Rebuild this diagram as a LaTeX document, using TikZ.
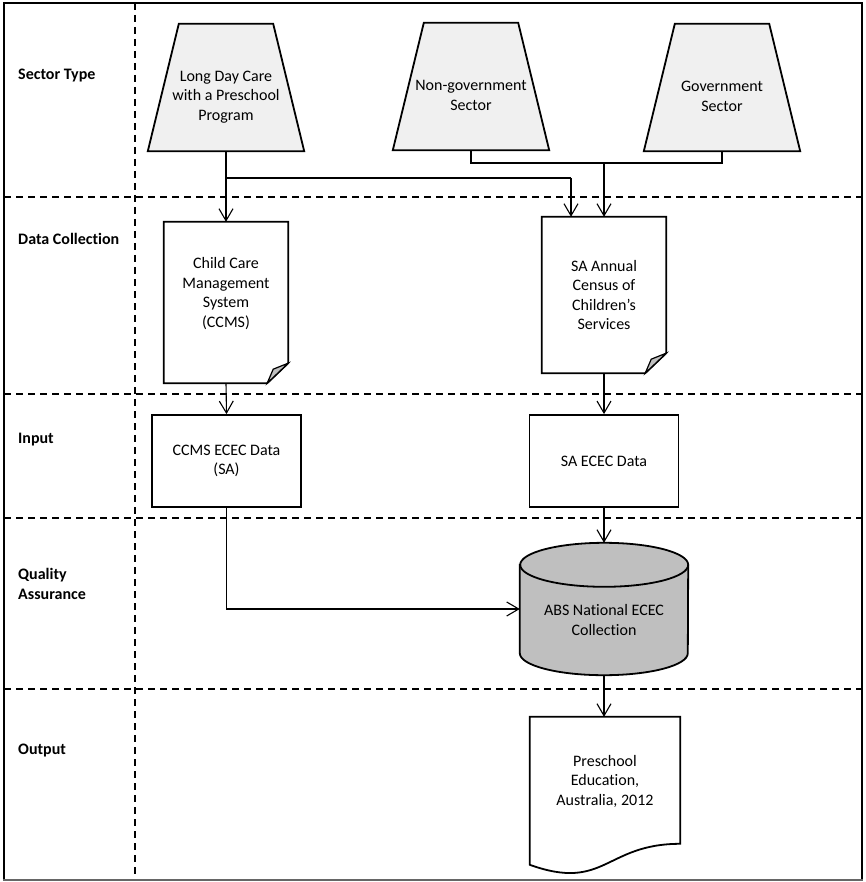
\documentclass[tikz,border=0pt]{standalone}
\usepackage{fontspec}
\setmainfont{Carlito}[Ligatures=NoCommon]
\usetikzlibrary{arrows.meta,calc}
\begin{document}
\begin{tikzpicture}[x=1pt,y=-1pt,
  txt/.style={font=\fontsize{16}{19.5}\selectfont, align=center, inner sep=0pt},
  lbl/.style={font=\fontsize{16}{19.5}\selectfont\bfseries, align=left, anchor=west, inner sep=0pt},
  frame/.style={draw=none, inner sep=0pt, rectangle},
  shp/.style={draw=black, line width=1.8pt, line join=miter},
  trap/.style={shp, fill=black!6},
  docfill/.style={shp, fill=white},
  fold/.style={draw=black, line width=1.2pt, fill=black!25, line join=miter},
  cylfill/.style={shp, fill=black!25},
  conn/.style={draw=black, line width=1.1pt},
  arr/.style={conn, -{Straight Barb[length=12pt,width=14pt]}},
  dsh/.style={draw=black, line width=1.3pt, dash pattern=on 7pt off 5pt},
]
\useasboundingbox (0,0) rectangle (865,882);
\fill[white] (0,0) rectangle (865,882);

% frame and lanes
\draw[dsh] (135,3) -- (135,880);
\foreach \yy in {197,394,518,689} \draw[dsh] (4,\yy) -- (862,\yy);
\draw[line width=1.2pt] (4,880) -- (4,3) -- (862,3) -- (862,880);
\draw[black!60, line width=2pt] (3,880) -- (863,880);

% row labels
\node[lbl] (l1) at (18,76) {Sector Type};
\node[lbl] (l2) at (18,239) {Data Collection};
\node[lbl] (l3) at (18,440) {Input};
\node[lbl] (l4) at (18,584) {Quality\\Assurance};
\node[lbl] (l5) at (18,751) {Output};

% trapezoids
\node[frame, minimum width=156pt, minimum height=127pt] (ldc) at (226,87.5) {};
\node[frame, minimum width=156pt, minimum height=127pt] (ngs) at (471,86.5) {};
\node[frame, minimum width=156pt, minimum height=127pt] (gs) at (722,87.5) {};
\foreach \n in {ldc,ngs,gs}
  \draw[trap] (\n.south west) -- ($(\n.north west)+(31,0)$) -- ($(\n.north east)+(-31,0)$) -- (\n.south east) -- cycle;
\node[txt] (ldct) at ($(ldc.center)+(0,9.5)$) {Long Day Care\\with a Preschool\\Program};
\node[txt] (ngst) at ($(ngs.center)+(0,9)$) {Non-government\\Sector};
\node[txt] (gst) at ($(gs.center)+(0,9)$) {Government\\Sector};

% documents with folded corner
\node[frame, minimum width=124pt, minimum height=161pt] (ccms) at (226,302.5) {};
\node[frame, minimum width=124pt, minimum height=156pt] (sadoc) at (604,295) {};
\foreach \n in {ccms,sadoc} {
  \draw[docfill] (\n.north west) -- (\n.north east) -- ($(\n.south east)+(0,-20)$) -- ($(\n.south east)+(-21,0)$) -- (\n.south west) -- cycle;
  \draw[fold] ($(\n.south east)+(-21,0)$) -- ($(\n.south east)+(-15,-14)$) -- ($(\n.south east)+(0,-20)$) -- cycle;
}
\node[txt] (ccmst) at ($(ccms.center)+(0,-9)$) {Child Care\\Management\\System\\(CCMS)};
\node[txt] (sadoct) at ($(sadoc.center)+(0,0)$) {SA Annual\\Census of\\Children’s\\Services};

% input boxes
\node[docfill, minimum width=149pt, minimum height=92pt, inner sep=0pt] (ccmsdata) at (226.5,461) {};
\node[txt] at (ccmsdata.center) {CCMS ECEC Data\\(SA)};
\node[docfill, minimum width=149pt, minimum height=92pt, inner sep=0pt] (sadata) at (604,461) {};
\node[txt] at (sadata.center) {SA ECEC Data};

% cylinder
\node[frame, minimum width=168pt, minimum height=132pt] (abs) at (604,609) {};
\draw[cylfill] ($(abs.north west)+(0,22)$) -- ($(abs.south west)+(0,-22)$)
  arc[start angle=180, end angle=360, x radius=84pt, y radius=22pt]
  -- ($(abs.north east)+(0,22)$)
  arc[start angle=0, end angle=180, x radius=84pt, y radius=22pt] -- cycle;
\draw[shp] ($(abs.north east)+(0,22)$) arc[start angle=360, end angle=180, x radius=84pt, y radius=22pt];
\node[txt] (abst) at (604,620) {ABS National ECEC\\Collection};

% output document
\node[frame, minimum width=150pt, minimum height=158pt] (out) at (605,796) {};
\draw[docfill] (out.north west) -- (out.north east) -- ($(out.north east)+(0,127)$)
  .. controls ($(out.north)+(0,127)$) and ($(out.north)+(0,175)$) .. ($(out.north west)+(0,148)$) -- cycle;
\node[txt] (outt) at (605,781) {Preschool\\Education,\\Australia, 2012};

% connectors
\coordinate (b1) at (226,178);
\coordinate (b2) at (571,178);
\coordinate (m) at (604,163);
\draw[arr] (ldc.south) -- (ccms.north);
\draw[conn] (b1) -- (b2);
\draw[arr] (b2) -- (b2 |- sadoc.north);
\draw[conn] (ngs.south) |- (m) -| (gs.south);
\draw[arr] (m) -- (sadoc.north);
\draw[arr] (ccms.south) -- (ccmsdata.north);
\draw[arr] (sadoc.south) -- (sadata.north);
\draw[arr] (sadata.south) -- (abs.north);
\draw[arr] (ccmsdata.south) |- (abs.west);
\draw[arr] (abs.south) -- (abs.south |- out.north);
\end{tikzpicture}
\end{document}
